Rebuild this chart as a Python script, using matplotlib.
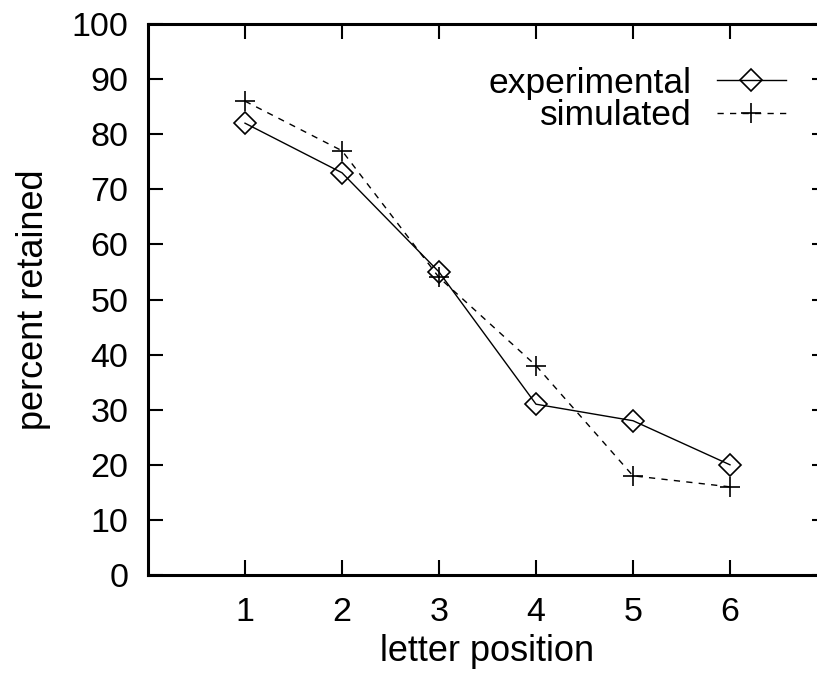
import numpy as np
import matplotlib
matplotlib.use('Agg')
from matplotlib import pyplot as plt

# letter position vs. percent retained
positions = [1, 2, 3, 4, 5, 6]
experimental = [82, 73, 55, 31, 28, 20]
simulated = [86, 77, 54, 38, 18, 16]

plt.rcParams['font.family'] = ['Liberation Sans', 'DejaVu Sans']

fig = plt.figure(figsize=(8.17, 6.75), dpi=100)
# plot box runs a little past the right edge of the canvas
ax = fig.add_axes([148/817, 1 - 575/675, 679/817, 551/675])

ax.plot(positions, experimental, color='black', lw=1.0, marker='D',
        markersize=11, mfc='none', mec='black', mew=1.2, label='experimental')
ax.plot(positions, simulated, color='black', lw=1.0, dashes=(4.5, 4.5),
        marker='+', markersize=14, mew=1.2, label='simulated')

ax.set_xlim(0, 7)
ax.set_ylim(0, 100)
ax.set_xticks(positions)
ax.set_yticks(np.arange(0, 101, 10))

ax.set_xlabel('letter position', fontsize=26, labelpad=4)
ax.set_ylabel('percent retained', fontsize=26, labelpad=15)

ax.xaxis.set_ticks_position('both')
ax.yaxis.set_ticks_position('both')
ax.tick_params(axis='both', which='major', direction='in', length=11,
               width=1.5, labelsize=24.5)
ax.tick_params(axis='x', pad=16)
ax.tick_params(axis='y', pad=14)

for side in ['top', 'bottom', 'left', 'right']:
    ax.spines[side].set_linewidth(2.2)

ax.legend(loc='upper right', bbox_to_anchor=(0.96, 0.948), frameon=False,
          markerfirst=False, fontsize=25.5, handlelength=1.95,
          handletextpad=0.7, labelspacing=-0.02, borderaxespad=0)

plt.savefig('out.png', dpi=100)
